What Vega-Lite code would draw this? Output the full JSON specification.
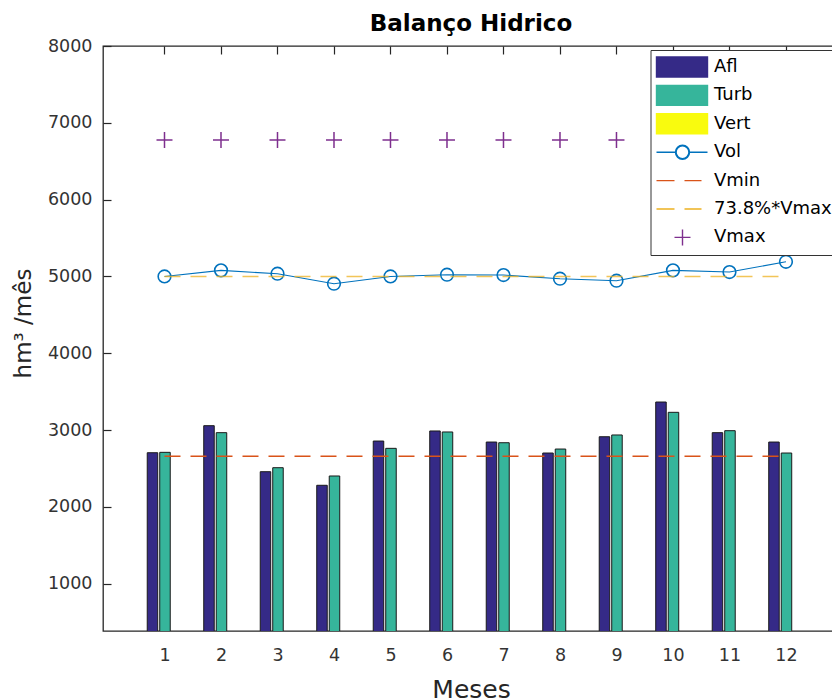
{
  "$schema": "https://vega.github.io/schema/vega-lite/v6.json",
  "width": 736,
  "height": 585,
  "autosize": {"type": "none"},
  "padding": {"left": 103, "top": 46, "right": 0, "bottom": 67},
  "background": "white",
  "title": {"text": "Balanço Hidrico", "fontSize": 23, "font": "DejaVu Sans", "fontWeight": "bold", "color": "#000000", "offset": 1, "anchor": "middle", "frame": "group"},
  "config": {
    "font": "DejaVu Sans",
    "view": {"stroke": "#262626", "strokeWidth": 1.3},
    "axis": {"grid": false, "labelFont": "DejaVu Sans", "titleFont": "DejaVu Sans"},
    "legend": {"labelFont": "DejaVu Sans"}
  },
  "resolve": {"axis": {"x": "independent"}},
  "data": {"values": [
    {"month": 1, "series": "Afl", "value": 2705}, {"month": 2, "series": "Afl", "value": 3057}, {"month": 3, "series": "Afl", "value": 2458}, {"month": 4, "series": "Afl", "value": 2281}, {"month": 5, "series": "Afl", "value": 2857}, {"month": 6, "series": "Afl", "value": 2988}, {"month": 7, "series": "Afl", "value": 2844}, {"month": 8, "series": "Afl", "value": 2701}, {"month": 9, "series": "Afl", "value": 2913}, {"month": 10, "series": "Afl", "value": 3365}, {"month": 11, "series": "Afl", "value": 2966}, {"month": 12, "series": "Afl", "value": 2844},
    {"month": 1, "series": "Turb", "value": 2710}, {"month": 2, "series": "Turb", "value": 2966}, {"month": 3, "series": "Turb", "value": 2510}, {"month": 4, "series": "Turb", "value": 2402}, {"month": 5, "series": "Turb", "value": 2762}, {"month": 6, "series": "Turb", "value": 2975}, {"month": 7, "series": "Turb", "value": 2835}, {"month": 8, "series": "Turb", "value": 2753}, {"month": 9, "series": "Turb", "value": 2936}, {"month": 10, "series": "Turb", "value": 3231}, {"month": 11, "series": "Turb", "value": 2992}, {"month": 12, "series": "Turb", "value": 2701},
    {"month": 1, "series": "Vert", "value": 0}, {"month": 2, "series": "Vert", "value": 0}, {"month": 3, "series": "Vert", "value": 0}, {"month": 4, "series": "Vert", "value": 0}, {"month": 5, "series": "Vert", "value": 0}, {"month": 6, "series": "Vert", "value": 0}, {"month": 7, "series": "Vert", "value": 0}, {"month": 8, "series": "Vert", "value": 0}, {"month": 9, "series": "Vert", "value": 0}, {"month": 10, "series": "Vert", "value": 0}, {"month": 11, "series": "Vert", "value": 0}, {"month": 12, "series": "Vert", "value": 0},
    {"month": 1, "series": "Vol", "value": 5000}, {"month": 2, "series": "Vol", "value": 5079}, {"month": 3, "series": "Vol", "value": 5035}, {"month": 4, "series": "Vol", "value": 4905}, {"month": 5, "series": "Vol", "value": 5000}, {"month": 6, "series": "Vol", "value": 5022}, {"month": 7, "series": "Vol", "value": 5018}, {"month": 8, "series": "Vol", "value": 4970}, {"month": 9, "series": "Vol", "value": 4944}, {"month": 10, "series": "Vol", "value": 5079}, {"month": 11, "series": "Vol", "value": 5057}, {"month": 12, "series": "Vol", "value": 5191},
    {"month": 1, "series": "Vmin", "value": 2660}, {"month": 2, "series": "Vmin", "value": 2660}, {"month": 3, "series": "Vmin", "value": 2660}, {"month": 4, "series": "Vmin", "value": 2660}, {"month": 5, "series": "Vmin", "value": 2660}, {"month": 6, "series": "Vmin", "value": 2660}, {"month": 7, "series": "Vmin", "value": 2660}, {"month": 8, "series": "Vmin", "value": 2660}, {"month": 9, "series": "Vmin", "value": 2660}, {"month": 10, "series": "Vmin", "value": 2660}, {"month": 11, "series": "Vmin", "value": 2660}, {"month": 12, "series": "Vmin", "value": 2660},
    {"month": 1, "series": "73.8%*Vmax", "value": 5000}, {"month": 2, "series": "73.8%*Vmax", "value": 5000}, {"month": 3, "series": "73.8%*Vmax", "value": 5000}, {"month": 4, "series": "73.8%*Vmax", "value": 5000}, {"month": 5, "series": "73.8%*Vmax", "value": 5000}, {"month": 6, "series": "73.8%*Vmax", "value": 5000}, {"month": 7, "series": "73.8%*Vmax", "value": 5000}, {"month": 8, "series": "73.8%*Vmax", "value": 5000}, {"month": 9, "series": "73.8%*Vmax", "value": 5000}, {"month": 10, "series": "73.8%*Vmax", "value": 5000}, {"month": 11, "series": "73.8%*Vmax", "value": 5000}, {"month": 12, "series": "73.8%*Vmax", "value": 5000},
    {"month": 1, "series": "Vmax", "value": 6775}, {"month": 2, "series": "Vmax", "value": 6775}, {"month": 3, "series": "Vmax", "value": 6775}, {"month": 4, "series": "Vmax", "value": 6775}, {"month": 5, "series": "Vmax", "value": 6775}, {"month": 6, "series": "Vmax", "value": 6775}, {"month": 7, "series": "Vmax", "value": 6775}, {"month": 8, "series": "Vmax", "value": 6775}, {"month": 9, "series": "Vmax", "value": 6775}, {"month": 10, "series": "Vmax", "value": 6775}, {"month": 11, "series": "Vmax", "value": 6775}, {"month": 12, "series": "Vmax", "value": 6775}
  ]},
  "encoding": {
    "x": {
      "field": "month", "type": "quantitative",
      "scale": {"domain": [0, 12.85], "nice": false, "zero": false},
      "axis": null
    },
    "y": {
      "field": "value", "type": "quantitative",
      "scale": {"domain": [384, 8000], "nice": false, "zero": false},
      "axis": {"orient": "left", "offset": -8, "values": [1000,2000,3000,4000,5000,6000,7000,8000], "format": "d", "title": "hm³ /mês", "titleFontSize": 23, "titleFontWeight": "normal", "titleColor": "#262626", "titlePadding": 12, "titleY": 277, "labelFontSize": 17.5, "labelFontWeight": "normal", "labelColor": "#333333", "labelPadding": 11, "tickSize": 8, "tickColor": "#262626", "tickWidth": 1.2, "domain": false}
    },
    "color": {
      "field": "series", "type": "nominal",
      "scale": {"domain": ["Afl","Turb","Vert","Vol","Vmin","73.8%*Vmax","Vmax"], "range": ["#352A87","#36B59B","#F9FB0E","#0072BD","#D95319","#EDB120","#7E2F8E"]},
      "legend": {
        "orient": "none", "legendX": 547.5, "legendY": 4, "title": null, "padding": 6,
        "strokeColor": "#333333", "fillColor": "white",
        "symbolSize": 400, "symbolOpacity": 1, "symbolStrokeWidth": 1.4,
        "labelFontSize": 18, "labelColor": "#000000", "labelOffset": 35.5, "rowPadding": 2.4, "gridAlign": "all", "labelLimit": 300,
        "encode": {"symbols": {"update": {
          "shape": {"signal": "indexof(['Afl','Turb','Vert'], datum.value) >= 0 ? 'M-1.1,-1.0H4V1.0H-1.1Z' : datum.value == 'Vol' ? 'M-1.1,0H0.8M2.2,0H4M0.8,0A0.7,0.7 0 1,1 2.2,0A0.7,0.7 0 1,1 0.8,0ZM0.86,0A0.64,0.64 0 1,0 2.14,0A0.64,0.64 0 1,0 0.86,0Z' : datum.value == 'Vmax' ? 'M1.5,-0.8V0.8M0.7,0H2.3' : 'M-1.1,0H0.7M1.7,0H3.4'"}
        }}}
      }
    }
  },
  "layer": [
    {"transform": [{"filter": "datum.series === 'Afl'"}], "mark": {"type": "bar", "width": 10.5, "xOffset": -12, "stroke": "#1a1a1a", "strokeWidth": 1, "clip": true, "opacity": 1},
     "encoding": {"x": {"field": "month", "type": "quantitative", "scale": {"domain": [0, 12.85], "nice": false, "zero": false},
       "axis": {"orient": "bottom", "values": [1,2,3,4,5,6,7,8,9,10,11,12], "format": "d", "title": "Meses", "titleFontSize": 25, "titleFontWeight": "normal", "titleColor": "#262626", "titlePadding": 14, "labelFontSize": 17.5, "labelFontWeight": "normal", "labelColor": "#333333", "labelPadding": 15, "labelFlush": false, "labelOverlap": false, "ticks": false, "domain": false}}}},
    {"transform": [{"filter": "datum.series === 'Turb'"}], "mark": {"type": "bar", "width": 10.5, "xOffset": 0.5, "stroke": "#1a1a1a", "strokeWidth": 1, "clip": true, "opacity": 1}},
    {"transform": [{"filter": "datum.series === 'Vert'"}], "mark": {"type": "bar", "width": 10.5, "xOffset": 13, "stroke": "#1a1a1a", "strokeWidth": 1, "clip": true, "opacity": 1}},
    {"transform": [{"filter": "datum.series === 'Vol'"}], "mark": {"type": "line", "strokeWidth": 1.1}},
    {"transform": [{"filter": "datum.series === 'Vol'"}], "mark": {"type": "point", "shape": "circle", "size": 160, "filled": false, "strokeWidth": 1.6, "opacity": 1}},
    {"transform": [{"filter": "datum.series === 'Vmin'"}], "mark": {"type": "line", "strokeWidth": 1.5, "strokeDash": [16, 10]}},
    {"transform": [{"filter": "datum.series === '73.8%*Vmax'"}], "mark": {"type": "line", "strokeWidth": 1.6, "strokeDash": [16, 10], "opacity": 0.75}},
    {"transform": [{"filter": "datum.series === 'Vmax'"}], "mark": {"type": "point", "shape": "M0,-1V1M-1,0H1", "size": 256, "filled": false, "strokeWidth": 1.5, "opacity": 1},
     "encoding": {"x": {"field": "month", "type": "quantitative", "scale": {"domain": [0, 12.85], "nice": false, "zero": false},
       "axis": {"orient": "top", "offset": -8, "values": [1,2,3,4,5,6,7,8,9,10,11,12], "labels": false, "title": null, "tickSize": 8, "tickColor": "#262626", "tickWidth": 1.2, "domain": false}}}}
  ]
}
